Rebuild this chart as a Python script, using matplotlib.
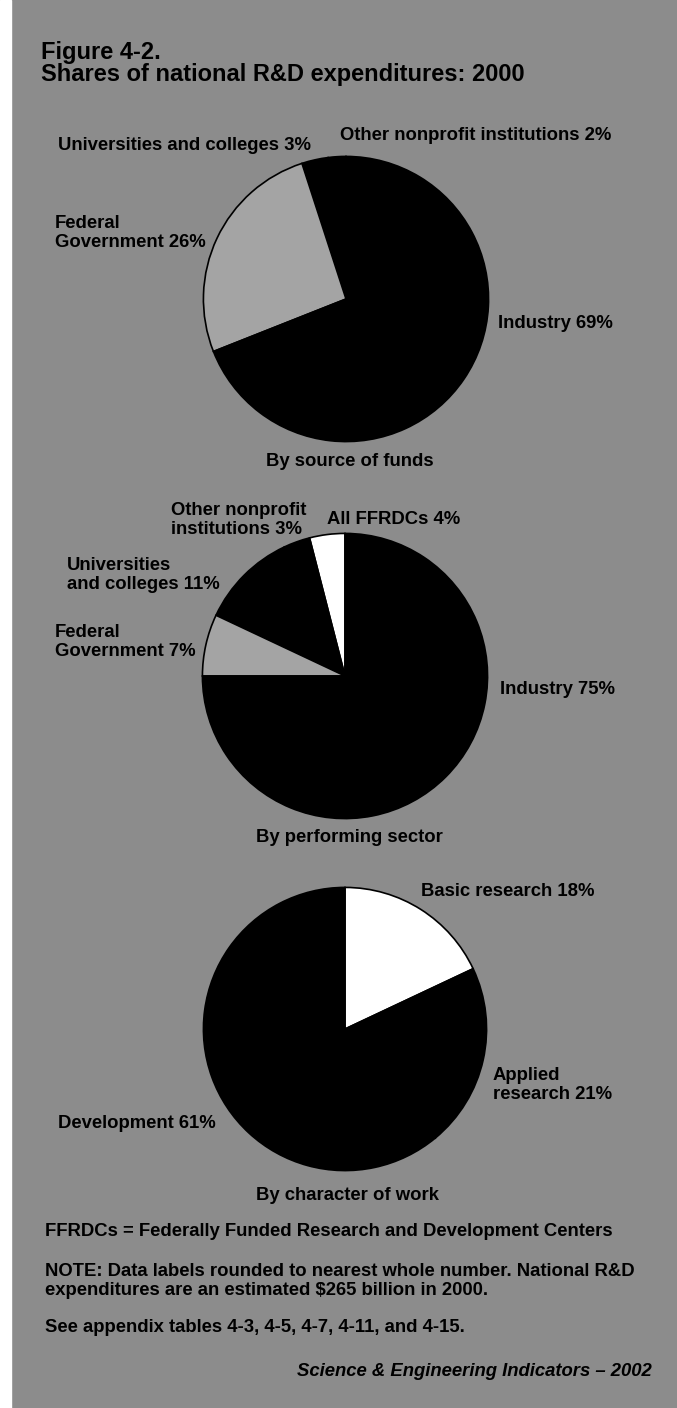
import matplotlib.pyplot as plt

plt.rcParams['font.family'] = ['Liberation Sans', 'DejaVu Sans']
plt.rcParams['font.weight'] = 'bold'

W, H = 677, 1408
BG = '#8c8c8c'

# By source of funds (counterclockwise from 12 o'clock)
funds_labels = ['Other nonprofit institutions', 'Universities and colleges', 'Federal Government', 'Industry']
funds_values = [2, 3, 26, 69]
funds_colors = ['black', 'black', '#a4a4a4', 'black']

# By performing sector (counterclockwise from 12 o'clock)
sector_labels = ['All FFRDCs', 'Other nonprofit institutions', 'Universities and colleges', 'Federal Government', 'Industry']
sector_values = [4, 3, 11, 7, 75]
sector_colors = ['white', 'black', 'black', '#a4a4a4', 'black']

# By character of work (clockwise from 12 o'clock)
work_labels = ['Basic research', 'Applied research', 'Development']
work_values = [18, 21, 61]
work_colors = ['white', 'black', 'black']

fig = plt.figure(figsize=(W / 100, H / 100), dpi=100, facecolor=BG)

# white strip down the left edge
fig.patches.append(plt.Rectangle((0, 0), 11 / W, 1, transform=fig.transFigure, color='white'))


def txt(x, y, s, size=13.3, **kw):
    # x, y in pixels from the top left corner
    fig.text(x / W, 1 - y / H, s, fontsize=size, va='center', linespacing=1.1, **kw)


def pie(cx, cy, r, values, colors, counterclock=True):
    ax = fig.add_axes([(cx - r) / W, 1 - (cy + r) / H, 2 * r / W, 2 * r / H])
    ax.pie(values, colors=colors, startangle=90, counterclock=counterclock,
           wedgeprops={'edgecolor': 'black', 'linewidth': 1.2})
    ax.set_xlim(-1.01, 1.01)
    ax.set_ylim(-1.01, 1.01)
    ax.axis('off')


txt(41, 52, 'Figure 4-2.', 17)
txt(41, 75, 'Shares of national R&D expenditures: 2000', 17)

# funds pie
pie(346, 299, 144, funds_values, funds_colors)
txt(340, 136, f'{funds_labels[0]} {funds_values[0]}%')
txt(58, 146, f'{funds_labels[1]} {funds_values[1]}%')
txt(55, 233, 'Federal\nGovernment %d%%' % funds_values[2])
txt(498, 323, f'{funds_labels[3]} {funds_values[3]}%')
txt(350, 462, 'By source of funds', ha='center')

# sector pie
pie(345, 676, 144, sector_values, sector_colors)
txt(327, 519, f'{sector_labels[0]} {sector_values[0]}%')
txt(171, 520, 'Other nonprofit\ninstitutions %d%%' % sector_values[1])
txt(67, 575, 'Universities\nand colleges %d%%' % sector_values[2])
txt(55, 642, 'Federal\nGovernment %d%%' % sector_values[3])
txt(500, 690, f'{sector_labels[4]} {sector_values[4]}%')
txt(349, 837, 'By performing sector', ha='center')

# character of work pie
pie(345, 1029, 143, work_values, work_colors, counterclock=False)
txt(421, 891, f'{work_labels[0]} {work_values[0]}%')
txt(493, 1085, 'Applied\nresearch %d%%' % work_values[1])
txt(58, 1124, f'{work_labels[2]} {work_values[2]}%')
txt(348, 1195, 'By character of work', ha='center')

# notes
txt(45, 1232, 'FFRDCs = Federally Funded Research and Development Centers')
txt(45, 1281, 'NOTE: Data labels rounded to nearest whole number. National R&D\n'
              'expenditures are an estimated \\$265 billion in 2000.')
txt(45, 1327, 'See appendix tables 4-3, 4-5, 4-7, 4-11, and 4-15.')
txt(652, 1372, 'Science & Engineering Indicators \u2013 2002', ha='right', style='italic')

fig.savefig('out.png', dpi=100, facecolor=BG)
